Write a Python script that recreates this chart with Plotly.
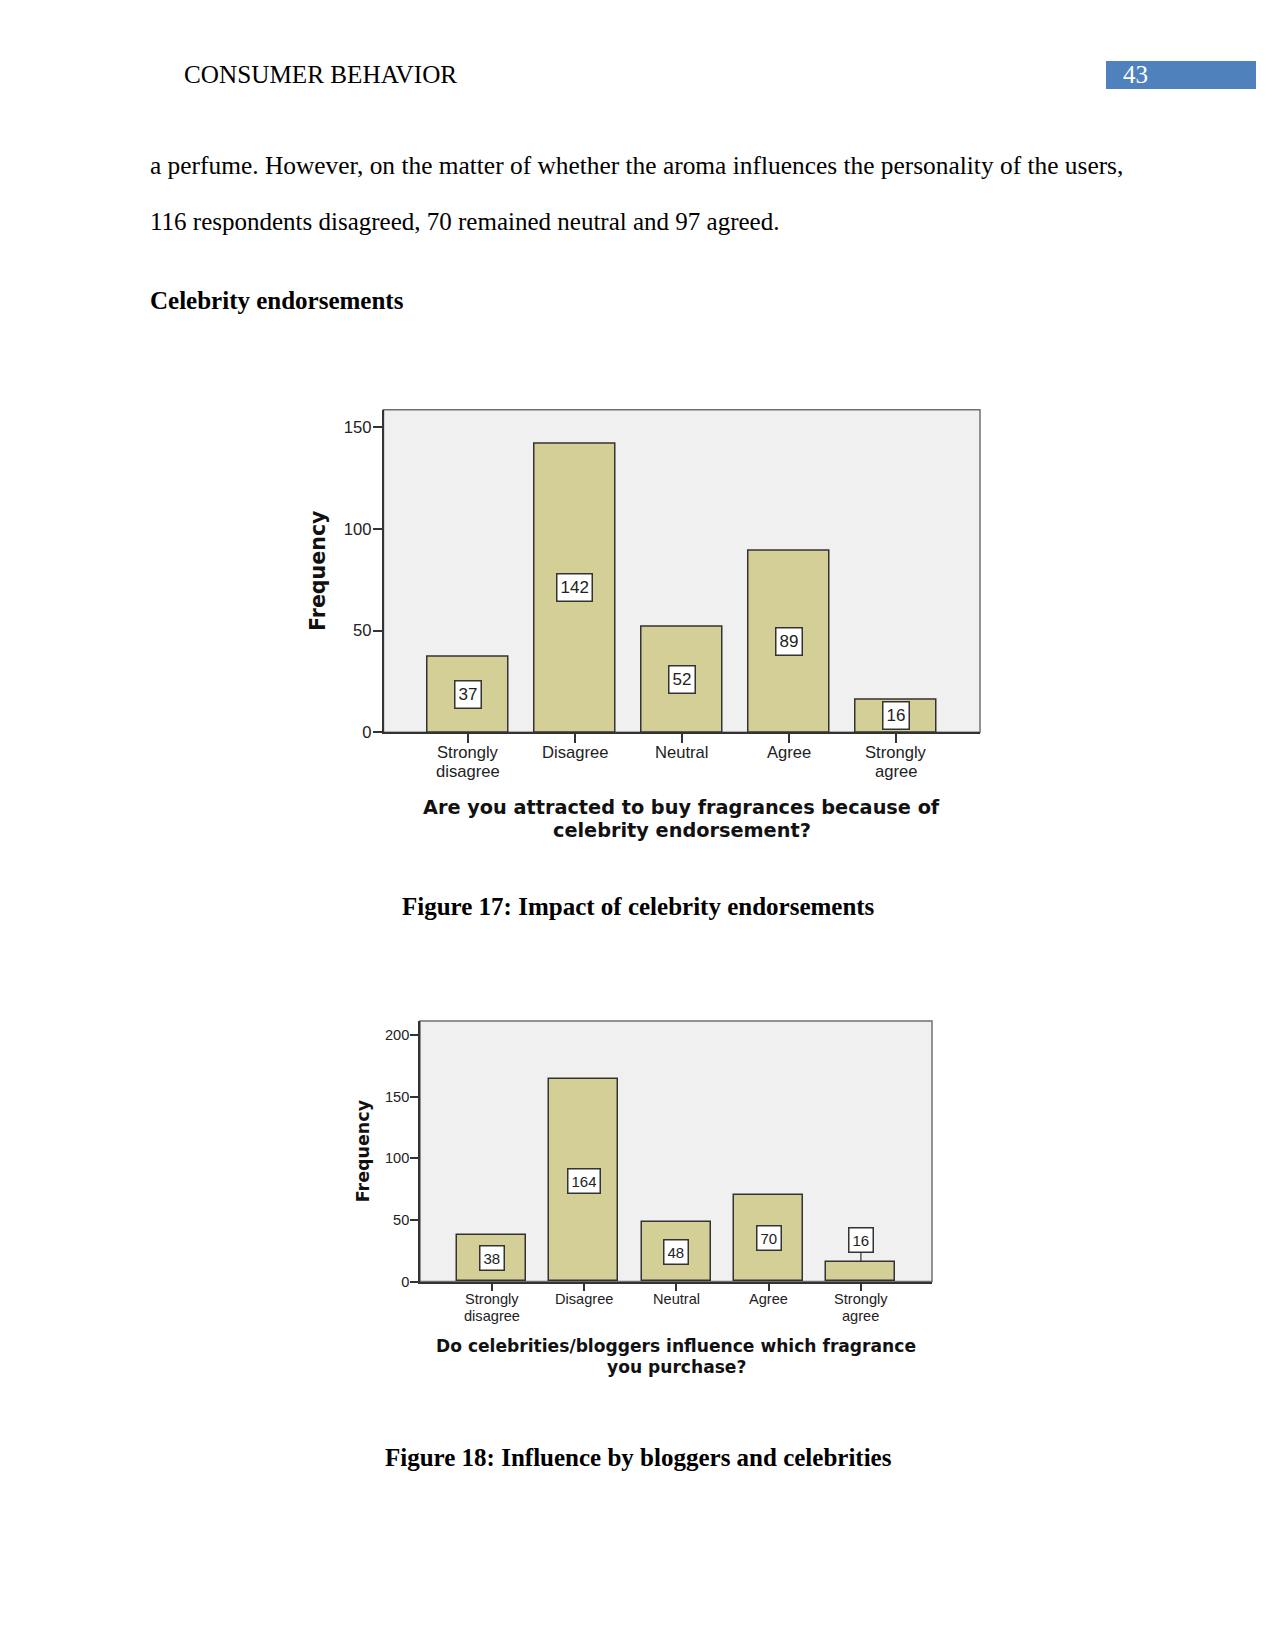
import plotly.graph_objects as go

# ---------------- data ----------------
categories = ["Strongly<br>disagree", "Disagree", "Neutral", "Agree", "Strongly<br>agree"]
fig17_values = [37, 142, 52, 89, 16]
fig18_values = [38, 164, 48, 70, 16]
fig17_ticks = [0, 50, 100, 150]
fig18_ticks = [0, 50, 100, 150, 200]
fig17_xtitle = ["Are you attracted to buy fragrances because of", "celebrity endorsement?"]
fig18_xtitle = ["Do celebrities/bloggers influence which fragrance", "you purchase?"]
fig17_caption = "Figure 17: Impact of celebrity endorsements"
fig18_caption = "Figure 18: Influence by bloggers and celebrities"
header_text = "CONSUMER BEHAVIOR"
page_number = "43"
body_lines = [
    "a perfume. However, on the matter of whether the aroma influences the personality of the users,",
    "116 respondents disagreed, 70 remained neutral and 97 agreed.",
]
section_heading = "Celebrity endorsements"

W, H = 1275, 1650
VS = 1.0055  # vertical calibration
BAR_FILL = "#d3cf97"
DARK = "#333333"
PLOT_BG = "#f0f0f0"
SANS = "Liberation Sans, Arial, sans-serif"
BOLD_SANS = "DejaVu Sans, Verdana, sans-serif"
SERIF = "Liberation Serif, Times New Roman, serif"


def px(x):
    return x / W


def py(y):
    return 1 - y * VS / H


fig = go.Figure()

charts = [
    dict(vals=fig17_values, ticks=fig17_ticks, xt=fig17_xtitle, xa="x", ya="y",
         left=383.5, right=980, top=410, bottom=732.7, ymax=158.5, xr=[-0.789, 4.789],
         width=0.756, tickfs=16.6, ticklen=9, cat_y=753.0, cat_dy=18.7,
         valfs=17, valh=20, titlefs=19.3, ytitlefs=20.6,
         xtitle_ys=[808, 831], ytitle_x=318, above=[False] * 5),
    dict(vals=fig18_values, ticks=fig18_ticks, xt=fig18_xtitle, xa="x2", ya="y2",
         left=420, right=932, top=1021.7, bottom=1282.3, ymax=211.4, xr=[-0.775, 4.77],
         width=0.746, tickfs=14.6, ticklen=8, cat_y=1300.2, cat_dy=16.4,
         valfs=15, valh=17, titlefs=17.1, ytitlefs=17.5,
         xtitle_ys=[1347, 1368], ytitle_x=363, above=[False, False, False, False, True]),
]

annotations = []
shapes = []

for i, c in enumerate(charts):
    xs = list(range(len(categories)))
    fig.add_trace(go.Bar(
        x=xs, y=c["vals"], xaxis=c["xa"], yaxis=c["ya"], width=c["width"],
        marker=dict(color=BAR_FILL, line=dict(color=DARK, width=1.5)),
        hoverinfo="y", showlegend=False,
    ))
    suffix = "" if i == 0 else "2"
    fig.layout["xaxis" + suffix] = dict(
        domain=[px(c["left"]), px(c["right"])], anchor=c["ya"], range=c["xr"],
        tickmode="array", tickvals=xs, showticklabels=False,
        ticks="outside", ticklen=c["ticklen"], tickwidth=1.5, tickcolor=DARK,
        showline=True, linecolor=DARK, linewidth=1.5, showgrid=False, zeroline=False,
        fixedrange=True,
    )
    fig.layout["yaxis" + suffix] = dict(
        domain=[py(c["bottom"]), py(c["top"])], anchor=c["xa"], range=[0, c["ymax"]],
        tickmode="array", tickvals=c["ticks"], ticklabelstandoff=-2,
        ticks="outside", ticklen=c["ticklen"], tickwidth=1.5, tickcolor=DARK,
        showline=True, linecolor=DARK, linewidth=1.5, showgrid=False, zeroline=False,
        tickfont=dict(family=SANS, size=c["tickfs"], color="#222"), fixedrange=True,
    )
    # category labels (tight two-line spacing), positioned on the category axis
    for xi, cat in enumerate(categories):
        for li, part in enumerate(cat.split("<br>")):
            annotations.append(dict(
                x=xi, xref=c["xa"], y=py(c["cat_y"] + li * c["cat_dy"]), yref="paper",
                text=part, showarrow=False, xanchor="center", yanchor="middle",
                font=dict(family=SANS, size=c["tickfs"], color="#222")))
    # plot frame
    shapes.append(dict(type="rect", xref=c["xa"] + " domain", yref=c["ya"] + " domain",
                       x0=0, x1=1, y0=0, y1=1, line=dict(color="#707070", width=1.5),
                       fillcolor=PLOT_BG, layer="below"))
    # value labels
    px_per_unit = (c["bottom"] - c["top"]) * VS / c["ymax"]
    for xi, v in enumerate(c["vals"]):
        common = dict(x=xi, xref=c["xa"], yref=c["ya"], text=str(v),
                      bgcolor="white", bordercolor=DARK, borderwidth=1.5, borderpad=3,
                      height=c["valh"],
                      font=dict(family=SANS, size=c["valfs"], color="#222"))
        if c["above"][xi]:
            annotations.append(dict(
                y=v, showarrow=True, arrowhead=0, arrowwidth=1.2, arrowcolor=DARK,
                axref=c["xa"], ayref=c["ya"], ax=xi, ay=v + 22 / px_per_unit,
                standoff=0, **common))
        else:
            annotations.append(dict(y=v / 2, showarrow=False, **common))
    # axis titles
    for line, yy in zip(c["xt"], c["xtitle_ys"]):
        annotations.append(dict(
            x=px((c["left"] + c["right"]) / 2), y=py(yy), xref="paper", yref="paper",
            text="<b>" + line + "</b>", showarrow=False, xanchor="center", yanchor="middle",
            font=dict(family=BOLD_SANS, size=c["titlefs"], color="#111")))
    annotations.append(dict(
        x=px(c["ytitle_x"]), y=py((c["top"] + c["bottom"]) / 2), xref="paper", yref="paper",
        text="<b>Frequency</b>", textangle=-90, showarrow=False,
        xanchor="center", yanchor="middle",
        font=dict(family=BOLD_SANS, size=c["ytitlefs"], color="#111")))

# page text
annotations.append(dict(x=px(182), y=py(75), xref="paper", yref="paper", text=header_text,
                        showarrow=False, xanchor="left", yanchor="middle",
                        font=dict(family=SERIF, size=25.2, color="black")))
shapes.append(dict(type="rect", xref="paper", yref="paper", x0=px(1106), x1=px(1256),
                   y0=py(89), y1=py(61), fillcolor="#4f81bd", line=dict(width=0)))
annotations.append(dict(x=px(1121), y=py(75), xref="paper", yref="paper", text=page_number,
                        showarrow=False, xanchor="left", yanchor="middle",
                        font=dict(family=SERIF, size=25, color="white")))
for txt, yy, fs in zip(body_lines, [165, 222], [25.4, 25]):
    annotations.append(dict(x=px(148), y=py(yy), xref="paper", yref="paper", text=txt,
                            showarrow=False, xanchor="left", yanchor="middle",
                            font=dict(family=SERIF, size=fs, color="black")))
annotations.append(dict(x=px(148), y=py(301), xref="paper", yref="paper",
                        text="<b>" + section_heading + "</b>", showarrow=False,
                        xanchor="left", yanchor="middle",
                        font=dict(family=SERIF, size=25, color="black")))
for txt, yy in zip([fig17_caption, fig18_caption], [907, 1458]):
    annotations.append(dict(x=px(638.5), y=py(yy), xref="paper", yref="paper",
                            text="<b>" + txt + "</b>", showarrow=False,
                            xanchor="center", yanchor="middle",
                            font=dict(family=SERIF, size=25, color="black")))

fig.update_layout(
    width=W, height=H, margin=dict(l=0, r=0, t=0, b=0),
    paper_bgcolor="white", plot_bgcolor="rgba(0,0,0,0)",
    showlegend=False, annotations=annotations, shapes=shapes, bargap=0,
)

fig.write_html("out.html", config={"displayModeBar": False})
